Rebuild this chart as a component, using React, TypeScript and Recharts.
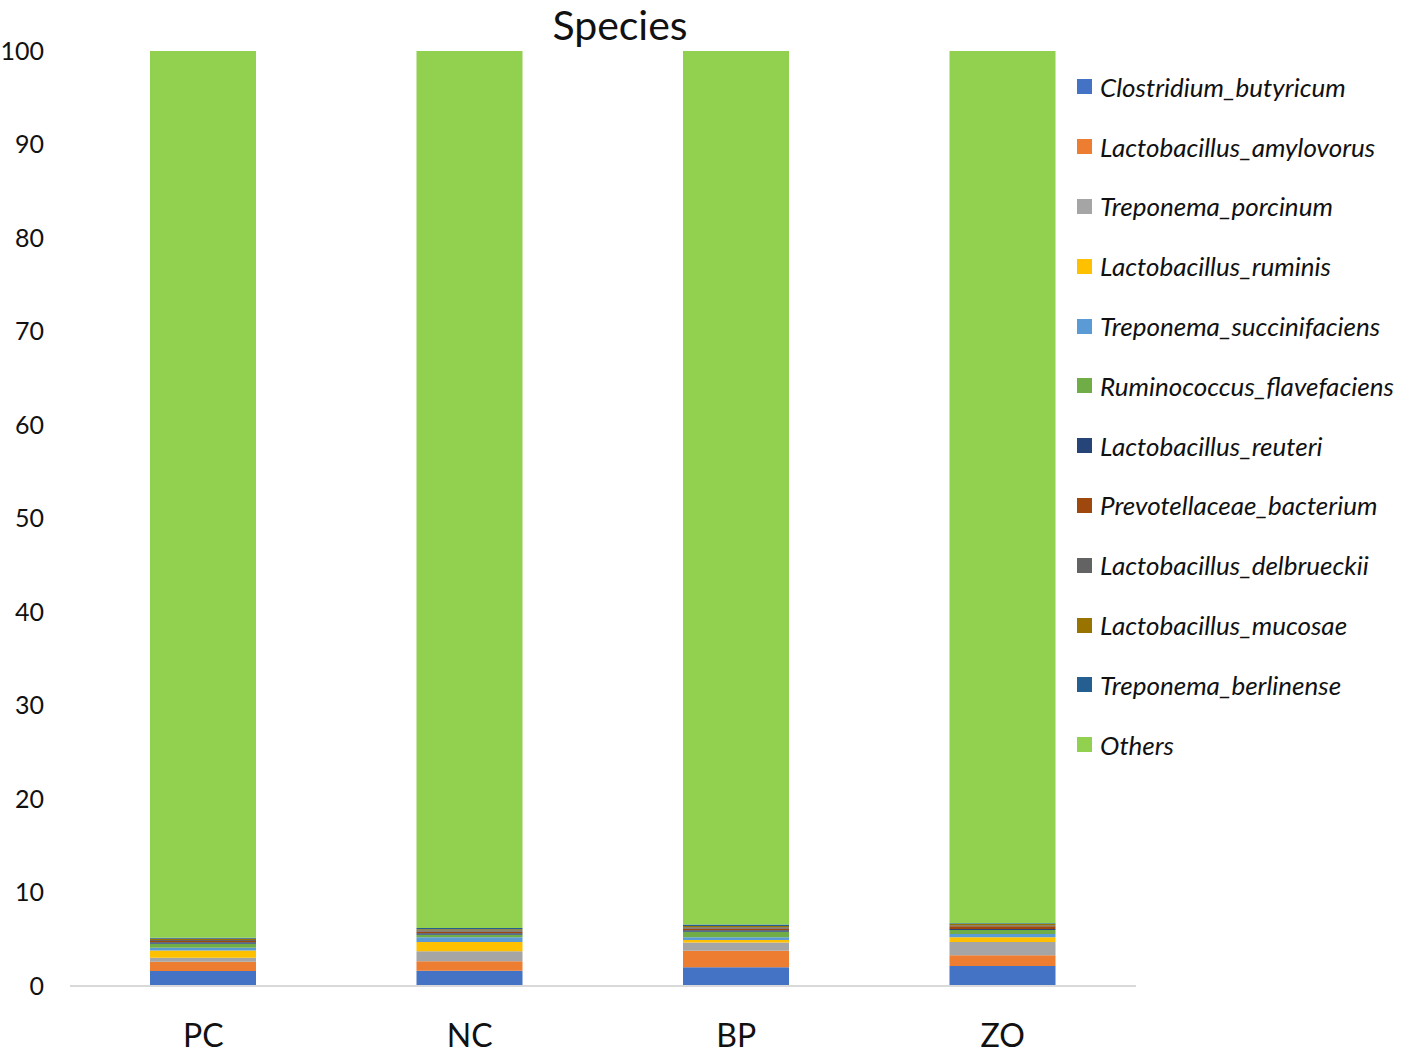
import { BarChart, Bar, XAxis, YAxis } from 'recharts';

const groups = ['PC', 'NC', 'BP', 'ZO'];

const species = [
    'Clostridium_butyricum',
    'Lactobacillus_amylovorus',
    'Treponema_porcinum',
    'Lactobacillus_ruminis',
    'Treponema_succinifaciens',
    'Ruminococcus_flavefaciens',
    'Lactobacillus_reuteri',
    'Prevotellaceae_bacterium',
    'Lactobacillus_delbrueckii',
    'Lactobacillus_mucosae',
    'Treponema_berlinense',
    'Others',
];

const colors = [
    '#4472C4', '#ED7D31', '#A5A5A5', '#FFC000', '#5B9BD5', '#70AD47',
    '#264478', '#9E480E', '#636363', '#997300', '#255E91', '#92D050',
];

// one array per species, in order PC, NC, BP, ZO
const clostridium = [1.6, 1.64, 2.0, 2.14];
const amylovorus = [1.0, 1.0, 1.78, 1.14];
const porcinum = [0.43, 1.07, 0.86, 1.43];
const ruminis = [0.78, 1.0, 0.29, 0.5];
const succinifaciens = [0.29, 0.5, 0.29, 0.36];
const flavefaciens = [0.43, 0.28, 0.57, 0.43];
const reuteri = [0.14, 0.16, 0.18, 0.1];
const prevotellaceae = [0.14, 0.16, 0.16, 0.3];
const delbrueckii = [0.12, 0.14, 0.16, 0.1];
const mucosae = [0.12, 0.12, 0.14, 0.12];
const berlinense = [0.12, 0.14, 0.14, 0.1];
const others = [94.83, 93.79, 93.43, 93.28];

const values = [
    clostridium, amylovorus, porcinum, ruminis, succinifaciens, flavefaciens,
    reuteri, prevotellaceae, delbrueckii, mucosae, berlinense, others,
];

const yTicks = [0, 10, 20, 30, 40, 50, 60, 70, 80, 90, 100];

const data = groups.map((g, i) => {
    const row: Record<string, string | number> = { group: g };
    species.forEach((s, j) => {
        row[s] = values[j][i];
    });
    return row;
});

const font = 'Lato, "Open Sans", sans-serif';

export default function App() {
    return (
        <div style={{ position: 'absolute', left: 0, top: 0, width: 1416, height: 1054, background: '#fff' }}>
            <div style={{ position: 'absolute', top: 0, left: 0, width: 1240, textAlign: 'center', fontFamily: font, fontSize: 41, lineHeight: '49px', color: '#111' }}>
                Species
            </div>
            <BarChart
                width={1416}
                height={1054}
                data={data}
                margin={{ top: 51, right: 280, left: 0, bottom: 0 }}
                barSize={106}
            >
                <XAxis
                    dataKey="group"
                    height={68}
                    axisLine={{ stroke: '#d9d9d9', strokeWidth: 2 }}
                    tickLine={false}
                    tickMargin={32}
                    tick={{ fontSize: 32, fill: '#111', fontFamily: font }}
                />
                <YAxis
                    width={70}
                    domain={[0, 100]}
                    ticks={yTicks}
                    axisLine={false}
                    tickLine={false}
                    tickMargin={20}
                    tick={{ fontSize: 25, fill: '#111', fontFamily: font }}
                />
                {species.map((s, i) => (
                    <Bar key={s} dataKey={s} stackId="a" fill={colors[i]} isAnimationActive={false} />
                ))}
            </BarChart>
            <div style={{ position: 'absolute', left: 1077, top: 57, width: 339, fontFamily: font }}>
                {species.map((s, i) => (
                    <div key={s} style={{ display: 'flex', alignItems: 'center', height: 59.8 }}>
                        <span style={{ width: 15, height: 15, background: colors[i], marginRight: 8, flexShrink: 0 }} />
                        <span style={{ fontStyle: 'italic', fontSize: 26, color: '#111', whiteSpace: 'nowrap' }}>{s}</span>
                    </div>
                ))}
            </div>
        </div>
    );
}
